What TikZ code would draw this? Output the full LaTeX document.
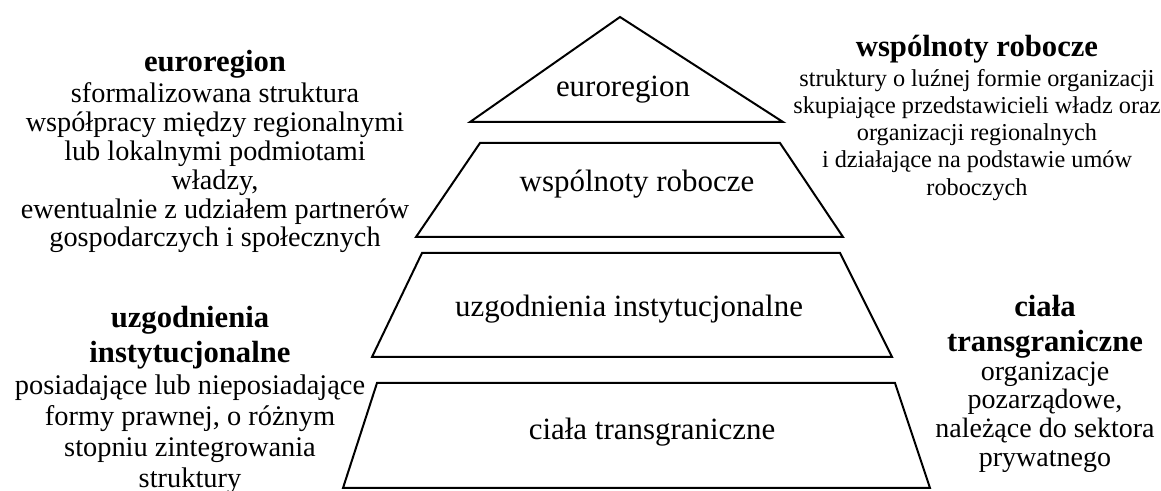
\documentclass[tikz,border=0pt]{standalone}
\usepackage{fontspec}
\setmainfont{Liberation Serif}
\usetikzlibrary{positioning}
\tikzstyle{warstwa} = [draw=black, line width=1.5pt, line join=miter]
\tikzstyle{napis} = [inner sep=0pt, anchor=base, font=\fontsize{23.2}{28}\selectfont]
\tikzstyle{naglowek} = [inner sep=0pt, align=center, font=\fontsize{23}{26}\selectfont\bfseries]
\tikzstyle{opis} = [inner sep=0pt, align=center, font=\fontsize{21.2}{21.6}\selectfont]
\tikzstyle{opismaly} = [inner sep=0pt, align=center, font=\fontsize{18.2}{20.3}\selectfont]
\begin{document}
\begin{tikzpicture}[x=0.75pt, y=-0.75pt]
        \useasboundingbox (0,0) rectangle (1161,491);
        % piramida
        \draw [warstwa] (620,17) -- (783,122) -- (470,122) -- cycle;
        \draw [warstwa] (480,143) -- (780,143) -- (843,237) -- (416,237) -- cycle;
        \draw [warstwa] (422,253) -- (840,253) -- (892,357) -- (372,357) -- cycle;
        \draw [warstwa] (377,383) -- (895,383) -- (930,488) -- (343,488) -- cycle;
        \node (euro) [napis] at (623,97) {euroregion};
        \node (wspolnoty) [napis] at (637,192) {wspólnoty robocze};
        \node (uzgodnienia) [napis] at (629,317) {uzgodnienia instytucjonalne};
        \node (ciala) [napis] at (652,440) {ciała transgraniczne};

        % opisy
        \node (euroTyt) [naglowek, anchor=base] at (215,72) {euroregion};
        \node (euroOpis) [opis] at (215,168) {sformalizowana struktura\\współpracy między regionalnymi\\lub lokalnymi podmiotami\\władzy,\\ewentualnie z udziałem partnerów\\gospodarczych i społecznych};
        \node (wspolTyt) [naglowek, anchor=base] at (977,57) {wspólnoty robocze};
        \node (wspolOpis) [opismaly] at (977,135) {struktury o luźnej formie organizacji\\skupiające przedstawicieli władz oraz\\organizacji regionalnych\\i działające na podstawie umów\\roboczych};
        \node (uzgTyt) [naglowek] at (190,338) {uzgodnienia\\instytucjonalne};
        \node (uzgOpis) [opis, font=\fontsize{21.3}{23.2}\selectfont] at (190,434.5) {posiadające lub nieposiadające\\formy prawnej, o różnym\\stopniu zintegrowania\\struktury};
        \node (cialaTyt) [naglowek] at (1045,326.5) {ciała\\transgraniczne};
        \node (cialaOpis) [opis, font=\fontsize{21}{21.5}\selectfont] at (1045,417) {organizacje\\pozarządowe,\\należące do sektora\\prywatnego};
\end{tikzpicture}
\end{document}
